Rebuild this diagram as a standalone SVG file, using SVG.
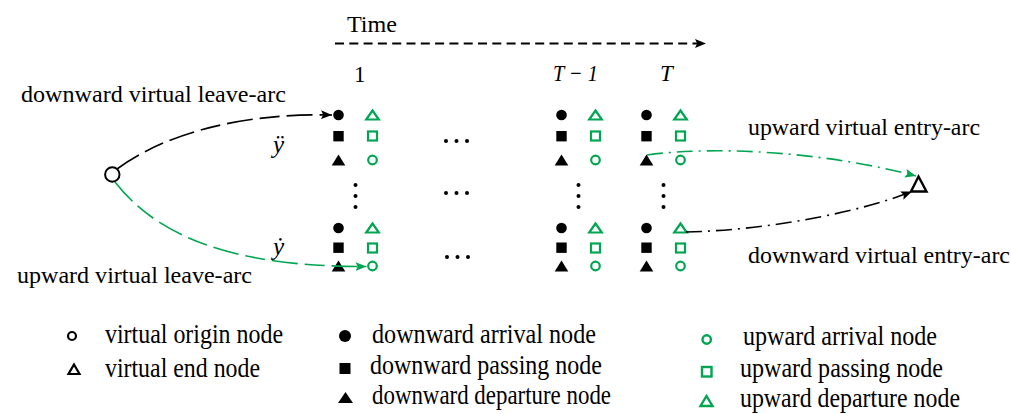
<svg xmlns="http://www.w3.org/2000/svg" width="1011" height="414" viewBox="0 0 1011 414">
<style>
text{font-family:"Liberation Serif","Times New Roman",serif;fill:#000}
.lbl{font-size:23px}
.it{font-style:italic;font-size:23px}
.leg{font-size:27px}
.k{fill:#000}
.g{fill:none;stroke:#00A651;stroke-width:2.2}
.dot{fill:#000}
.conn{fill:none;stroke-width:1.6}
</style>
<defs>
<marker id="ak" viewBox="0 0 10 8" refX="10" refY="4" markerWidth="11" markerHeight="9" markerUnits="userSpaceOnUse" orient="auto"><path d="M0,0 L10,4 L0,8 L2,4 z" fill="#000"/></marker>
<marker id="ag" viewBox="0 0 10 8" refX="10" refY="4" markerWidth="11" markerHeight="9" markerUnits="userSpaceOnUse" orient="auto"><path d="M0,0 L10,4 L0,8 L2,4 z" fill="#00A651"/></marker>
<g id="col">
<circle cx="0" cy="115" r="5.3" class="k"/>
<rect x="-5.2" y="131" width="10.4" height="10.4" class="k"/>
<polygon points="0,154.5 6.8,165.5 -6.8,165.5" class="k"/>
<circle cx="0" cy="228" r="5.3" class="k"/>
<rect x="-5.2" y="242.5" width="10.4" height="10.4" class="k"/>
<polygon points="0,260.5 6.8,271.5 -6.8,271.5" class="k"/>
<polygon points="34,110.5 40.3,119.5 27.7,119.5" class="g"/>
<rect x="29.5" y="131.5" width="9" height="9" class="g"/>
<circle cx="34" cy="160" r="4.3" class="g"/>
<polygon points="34,223.5 40.3,232.5 27.7,232.5" class="g"/>
<rect x="29.5" y="243.5" width="9" height="9" class="g"/>
<circle cx="34" cy="266" r="4.3" class="g"/>
<circle cx="17" cy="185" r="2" class="dot"/>
<circle cx="17" cy="196" r="2" class="dot"/>
<circle cx="17" cy="207" r="2" class="dot"/>
</g>
</defs>

<g id="time-axis">
<text x="347" y="32" style="font-size:23.5px" textLength="50" lengthAdjust="spacingAndGlyphs">Time</text>
<line x1="335" y1="43.5" x2="706" y2="43.5" stroke="#000" stroke-width="1.8" stroke-dasharray="9 5.3" marker-end="url(#ak)"/>
<text x="354" y="82" style="font-size:23px">1</text>
<text x="553" y="81" class="it" textLength="45" lengthAdjust="spacingAndGlyphs">T − 1</text>
<text x="660" y="81" class="it">T</text>
</g>

<g id="period-1"><use href="#col" x="338.5"/></g>
<g id="period-T-1"><use href="#col" x="561.5"/></g>
<g id="period-T"><use href="#col" x="646.5"/></g>

<g id="ellipsis">
<circle cx="446" cy="141" r="2" class="dot"/><circle cx="456.5" cy="141" r="2" class="dot"/><circle cx="467" cy="141" r="2" class="dot"/>
<circle cx="446" cy="193" r="2" class="dot"/><circle cx="456.5" cy="193" r="2" class="dot"/><circle cx="467" cy="193" r="2" class="dot"/>
<circle cx="447" cy="257" r="2" class="dot"/><circle cx="457.5" cy="257" r="2" class="dot"/><circle cx="468" cy="257" r="2" class="dot"/>
</g>

<g id="origin-node"><circle cx="112.3" cy="174.5" r="7.2" fill="#fff" stroke="#000" stroke-width="2"/></g>
<g id="end-node"><polygon points="918.5,176.5 926.5,191.5 911,191.5" fill="none" stroke="#000" stroke-width="2.4" stroke-linejoin="miter"/></g>

<g id="connectors">
<path class="conn" d="M117,169 C170,130 250,113 332,115" stroke="#000" stroke-dasharray="26 7 20 7" marker-end="url(#ak)"/>
<path class="conn" d="M115,182 C160,240 240,267 366.5,266.5" stroke="#00A651" stroke-dasharray="26 7 20 7" marker-end="url(#ag)"/>
<path class="conn" d="M647,155 C720,145 830,153 916,176" stroke="#00A651" stroke-dasharray="16 6 2 6" marker-end="url(#ag)"/>
<path class="conn" d="M686,232 C770,230 860,212 912,191.5" stroke="#000" stroke-dasharray="16 6 2 6" marker-end="url(#ak)"/>
</g>

<g id="labels">
<text x="21" y="102" class="lbl" textLength="265" lengthAdjust="spacingAndGlyphs">downward virtual leave-arc</text>
<text x="273" y="153" class="it" style="font-size:25px">ÿ</text>
<text x="273" y="255" class="it" style="font-size:25px">ẏ</text>
<text x="17" y="283" class="lbl" textLength="235" lengthAdjust="spacingAndGlyphs">upward virtual leave-arc</text>
<text x="748" y="135" class="lbl" textLength="232" lengthAdjust="spacingAndGlyphs">upward virtual entry-arc</text>
<text x="748" y="263" class="lbl" textLength="262" lengthAdjust="spacingAndGlyphs">downward virtual entry-arc</text>
</g>

<g id="legend">
<circle cx="72" cy="336" r="4" fill="none" stroke="#000" stroke-width="2.2"/>
<text x="105" y="343" class="leg" textLength="178" lengthAdjust="spacingAndGlyphs">virtual origin node</text>
<polygon points="74,364.5 79.5,374 68.5,374" fill="none" stroke="#000" stroke-width="2.2"/>
<text x="105" y="377" class="leg" textLength="155" lengthAdjust="spacingAndGlyphs">virtual end node</text>
<circle cx="345" cy="336" r="6" class="k"/>
<text x="372" y="343" class="leg" textLength="224" lengthAdjust="spacingAndGlyphs">downward arrival node</text>
<rect x="339.5" y="363" width="11" height="11" class="k"/>
<text x="370" y="374" class="leg" textLength="232" lengthAdjust="spacingAndGlyphs">downward passing node</text>
<polygon points="345.5,392 353,403 338,403" class="k"/>
<text x="372" y="404" class="leg" textLength="239" lengthAdjust="spacingAndGlyphs">downward departure node</text>
<circle cx="706.7" cy="339.5" r="4.2" fill="none" stroke="#00A651" stroke-width="2.4"/>
<text x="743" y="345" class="leg" textLength="194" lengthAdjust="spacingAndGlyphs">upward arrival node</text>
<rect x="702" y="367" width="9.5" height="9.5" fill="none" stroke="#00A651" stroke-width="2.4"/>
<text x="740" y="377" class="leg" textLength="203" lengthAdjust="spacingAndGlyphs">upward passing node</text>
<polygon points="706.5,396 712.5,406 700.5,406" fill="none" stroke="#00A651" stroke-width="2.4"/>
<text x="740" y="407" class="leg" textLength="220" lengthAdjust="spacingAndGlyphs">upward departure node</text>
</g>
</svg>
